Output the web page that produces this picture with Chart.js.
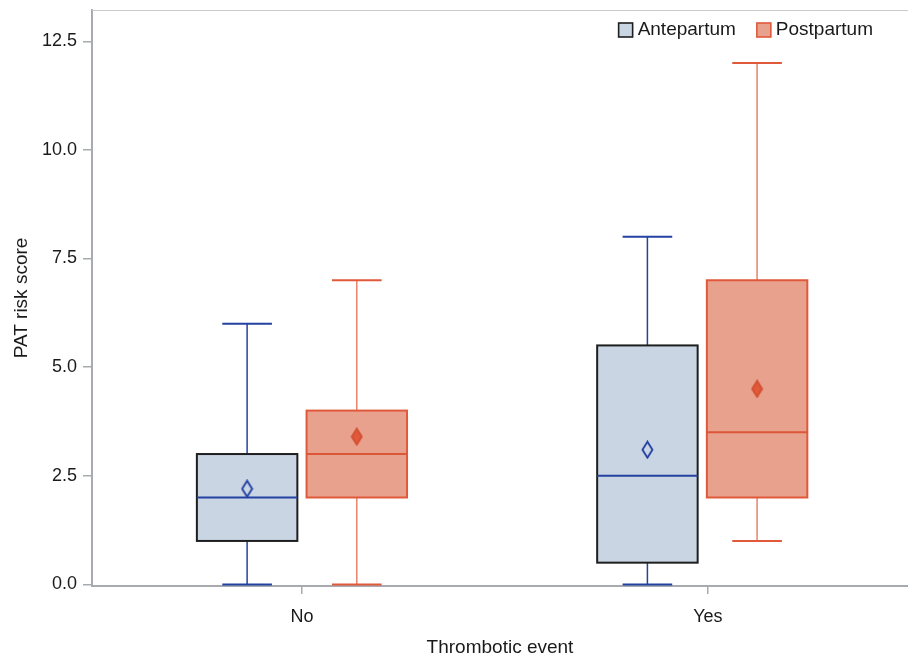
<!DOCTYPE html>
<html lang="en">
<head>
<meta charset="utf-8">
<title>PAT risk score</title>
<script src="https://cdn.jsdelivr.net/npm/chart.js@4.4.1/dist/chart.umd.min.js"></script>
<style>
html, body { margin: 0; padding: 0; background: #fff; overflow: hidden; }
canvas { display: block; }
</style>
</head>
<body>
<canvas id="chart-area" width="908" height="656"></canvas>

<script>
// data
var categories = ['No', 'Yes'];
var seriesNames = ['Antepartum', 'Postpartum'];

var anteMin    = [0, 0];
var anteQ1     = [1, 0.5];
var anteMedian = [2, 2.5];
var anteQ3     = [3, 5.5];
var anteMax    = [6, 8];
var anteMean   = [2.2, 3.1];

var postMin    = [0, 1];
var postQ1     = [2, 2];
var postMedian = [3, 3.5];
var postQ3     = [4, 7];
var postMax    = [7, 12];
var postMean   = [3.4, 4.5];

var yTicks = [0, 2.5, 5, 7.5, 10, 12.5];

// layout / style (not data)
var FONT = '"Liberation Sans", Arial, sans-serif';
var AXIS_GREY = '#a7abaf';
var boxOffset = [-0.137, 0.137];   // x offset of each series inside a group
var boxHalf = 0.1255;              // half box width, x units
var capHalf = 0.062;               // half whisker cap width
var tickPos = [0, 1.014];          // where the category ticks sit

var styles = [
  { fill: '#cad5e4', border: '#1e1e1e', whisker: '#2342a2', cap: '#2342a2', median: '#2342a2', meanFill: null, meanStroke: '#1f3c9e' },
  { fill: '#e8a18d', border: '#e0593b', whisker: '#e8826b', cap: '#e0593b', median: '#dc5638', meanFill: '#e0593b', meanStroke: '#d44e30' }
];

var stats = [
  { min: anteMin, q1: anteQ1, med: anteMedian, q3: anteQ3, max: anteMax, mean: anteMean },
  { min: postMin, q1: postQ1, med: postMedian, q3: postQ3, max: postMax, mean: postMean }
];

function diamond(st) {
  var c = document.createElement('canvas');
  c.width = 13; c.height = 19;
  var g = c.getContext('2d');
  g.beginPath();
  g.moveTo(6.5, 1.5); g.lineTo(11.5, 9.5); g.lineTo(6.5, 17.5); g.lineTo(1.5, 9.5); g.closePath();
  if (st.meanFill) { g.fillStyle = st.meanFill; g.fill(); }
  g.lineWidth = 1.8;
  g.strokeStyle = st.meanStroke;
  g.stroke();
  return c;
}

var datasets = stats.map(function(s, k) {
  return {
    label: seriesNames[k],
    data: s.mean.map(function(m, i) { return { x: i + boxOffset[k], y: m }; }),
    pointStyle: diamond(styles[k]),
    pointRadius: 6,
    pointHoverRadius: 6,
    showLine: false
  };
});

function line(ctx, x1, y1, x2, y2, color, w) {
  ctx.beginPath();
  ctx.moveTo(x1, y1); ctx.lineTo(x2, y2);
  ctx.strokeStyle = color; ctx.lineWidth = w;
  ctx.stroke();
}

function noPad(scale) {
  scale.paddingTop = 0; scale.paddingBottom = 0;
  scale.paddingLeft = 0; scale.paddingRight = 0;
}

var boxPlugin = {
  id: 'boxes',
  beforeDatasetsDraw: function(chart) {
    var ctx = chart.ctx, xs = chart.scales.x, ys = chart.scales.y;
    ctx.save();
    stats.forEach(function(s, k) {
      var st = styles[k];
      categories.forEach(function(c, i) {
        var xv = i + boxOffset[k];
        var cx = xs.getPixelForValue(xv);
        var l = xs.getPixelForValue(xv - boxHalf), r = xs.getPixelForValue(xv + boxHalf);
        var cl = xs.getPixelForValue(xv - capHalf), cr = xs.getPixelForValue(xv + capHalf);
        var yMin = ys.getPixelForValue(s.min[i]), yMax = ys.getPixelForValue(s.max[i]);
        var yQ1 = ys.getPixelForValue(s.q1[i]), yQ3 = ys.getPixelForValue(s.q3[i]);
        var yMed = ys.getPixelForValue(s.med[i]);
        // whiskers
        line(ctx, cx, yMin, cx, yQ1, st.whisker, 1.5);
        line(ctx, cx, yQ3, cx, yMax, st.whisker, 1.5);
        line(ctx, cl, yMin, cr, yMin, st.cap, 2);
        line(ctx, cl, yMax, cr, yMax, st.cap, 2);
        // box
        ctx.fillStyle = st.fill;
        ctx.fillRect(l, yQ3, r - l, yQ1 - yQ3);
        ctx.strokeStyle = st.border; ctx.lineWidth = 2;
        ctx.strokeRect(l, yQ3, r - l, yQ1 - yQ3);
        line(ctx, l, yMed, r, yMed, st.median, 2);
      });
    });
    ctx.restore();
  },
  afterDraw: function(chart) {
    var ctx = chart.ctx, a = chart.chartArea;
    ctx.save();
    // top frame line
    line(ctx, a.left, a.top + 0.5, a.right, a.top + 0.5, '#c9cbcd', 1);
    // legend inside the plot, top right
    ctx.font = '19px ' + FONT;
    ctx.textBaseline = 'middle';
    ctx.textAlign = 'left';
    var cy = a.top + 20;
    var x = a.right - 35;
    for (var k = seriesNames.length - 1; k >= 0; k--) {
      var w = ctx.measureText(seriesNames[k]).width;
      var tx = x - w;
      ctx.fillStyle = '#1a1a1a';
      ctx.fillText(seriesNames[k], tx, cy);
      var sx = tx - 19;
      ctx.fillStyle = styles[k].fill;
      ctx.fillRect(sx, cy - 7, 14, 14);
      ctx.strokeStyle = styles[k].border;
      ctx.lineWidth = 1.6;
      ctx.strokeRect(sx, cy - 7, 14, 14);
      x = sx - 21;
    }
    ctx.restore();
  }
};

var config = {
  type: 'scatter',
  data: { datasets: datasets },
  options: {
    responsive: false,
    animation: false,
    layout: { autoPadding: false, padding: { top: 10, right: 0, left: 0, bottom: 0 } },
    plugins: { legend: { display: false }, tooltip: { enabled: false } },
    scales: {
      x: {
        type: 'linear',
        min: -0.5245,
        max: 1.514,
        afterFit: function(scale) { scale.height = 70; noPad(scale); },
        afterBuildTicks: function(scale) {
          scale.ticks = tickPos.map(function(v) { return { value: v }; });
        },
        ticks: {
          color: '#1a1a1a',
          font: { family: FONT, size: 18 },
          padding: 12,
          callback: function(v) {
            var i = tickPos.indexOf(v);
            return i >= 0 ? categories[i] : '';
          }
        },
        grid: { drawOnChartArea: false, drawTicks: true, tickLength: 8, tickColor: AXIS_GREY, lineWidth: 1.5 },
        border: { display: true, color: AXIS_GREY, width: 2 },
        title: {
          display: true, text: 'Thrombotic event', color: '#1a1a1a',
          font: { family: FONT, size: 19, lineHeight: 1 },
          padding: { top: 0, bottom: -1 }
        }
      },
      y: {
        min: -0.037,
        max: 13.22,
        afterFit: function(scale) { scale.width = 92; noPad(scale); },
        afterBuildTicks: function(scale) {
          scale.ticks = yTicks.map(function(v) { return { value: v }; });
        },
        ticks: {
          color: '#1a1a1a',
          font: { family: FONT, size: 18 },
          padding: 6,
          callback: function(v) { return v.toFixed(1); }
        },
        grid: { drawOnChartArea: false, drawTicks: true, tickLength: 9, tickColor: AXIS_GREY, lineWidth: 1.5 },
        border: { display: true, color: AXIS_GREY, width: 2 },
        title: {
          display: true, text: 'PAT risk score', color: '#1a1a1a',
          font: { family: FONT, size: 19, lineHeight: 1 },
          padding: { top: 12, bottom: 0 }
        }
      }
    }
  },
  plugins: [boxPlugin]
};

window.onload = function() {
  var ctx = document.getElementById('chart-area').getContext('2d');
  window.myChart = new Chart(ctx, config);
};
</script>
</body>
</html>
